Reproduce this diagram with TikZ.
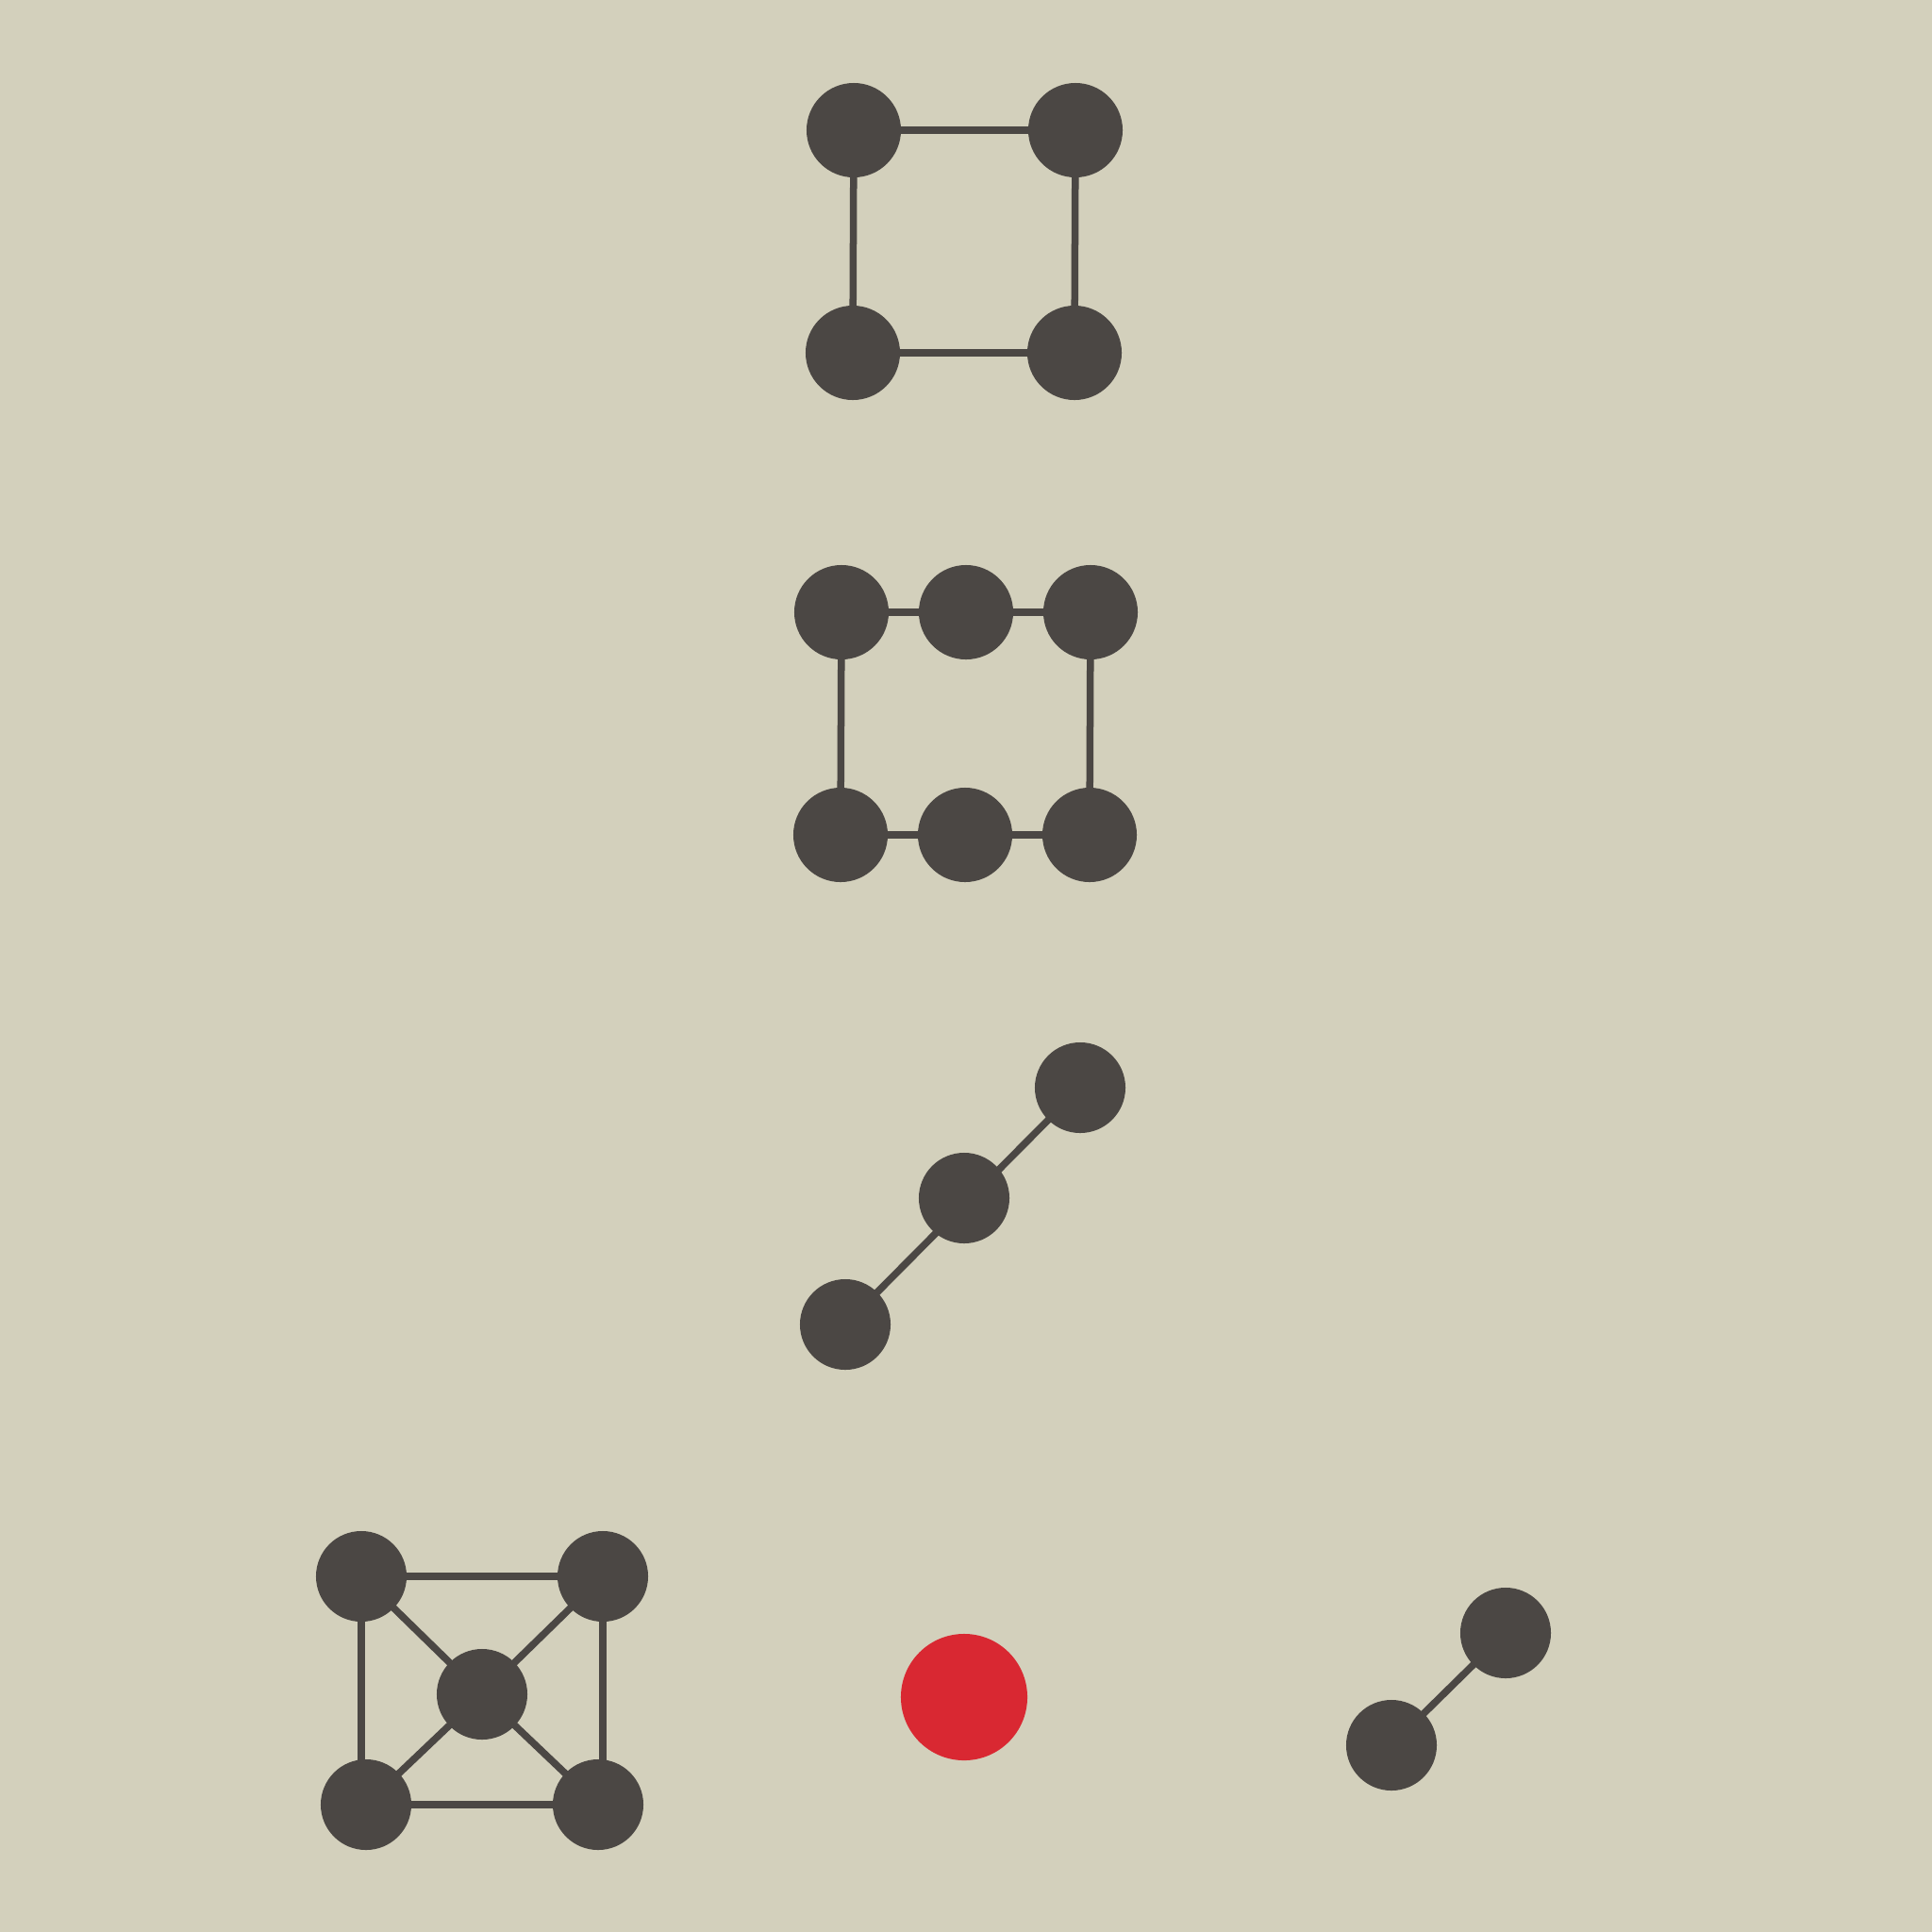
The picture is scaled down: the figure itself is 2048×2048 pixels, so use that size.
\documentclass[tikz,border=0pt]{standalone}
\usepackage{xcolor}
\usepackage{tikz}
\definecolor{paper}{HTML}{D3D0BC}
\definecolor{ink}{HTML}{4B4744}
\definecolor{signal}{HTML}{D92832}

\begin{document}
\begin{tikzpicture}[x=0.01cm, y=-0.01cm,
    vtx/.style={circle, fill=ink, draw=none, inner sep=0pt, outer sep=0pt, minimum size=1cm},
    small/.style={vtx, minimum size=0.96cm},
    hot/.style={circle, fill=signal, draw=none, inner sep=0pt, outer sep=0pt, minimum size=1.34cm},
    link/.style={draw=ink, line width=0.075cm},
  ]
    % canvas
    \fill[paper] (0,0) rectangle (2048,2048);

    % Group 1: square
    \node[vtx] (sqa) at (905,138)  {};
    \node[vtx] (sqb) at (1140,138) {};
    \node[vtx] (sqc) at (904,374)  {};
    \node[vtx] (sqd) at (1139,374) {};

    \draw[link] (sqa.center) -- (sqb.center);
    \draw[link] (sqa.center) -- (sqc.center);
    \draw[link] (sqb.center) -- (sqd.center);
    \draw[link] (sqc.center) -- (sqd.center);

    % Group 2: ring of six
    \node[vtx] (ra) at (892,649)  {};
    \node[vtx] (rb) at (1024,649) {};
    \node[vtx] (rc) at (1156,649) {};
    \node[vtx] (rd) at (891,885)  {};
    \node[vtx] (re) at (1023,885) {};
    \node[vtx] (rf) at (1155,885) {};

    \draw[link] (ra.center) -- (rb.center);
    \draw[link] (rb.center) -- (rc.center);
    \draw[link] (ra.center) -- (rd.center);
    \draw[link] (rc.center) -- (rf.center);
    \draw[link] (rd.center) -- (re.center);
    \draw[link] (re.center) -- (rf.center);

    % Group 3: chain (one straight run through the middle one)
    \node[small] (ca) at (1145,1153) {};
    \node[small] (cb) at (1022,1270) {};
    \node[small] (cc) at (896,1404)  {};

    \draw[link] (ca.center) -- (cc.center);

    % Group 4: square with hub
    \node[small] (ha) at (383,1671) {};
    \node[small] (hb) at (639,1671) {};
    \node[small] (hc) at (511,1796) {};
    \node[small] (hd) at (388,1913) {};
    \node[small] (he) at (634,1913) {};

    \draw[link] (ha.center) -- (hb.center);
    \draw[link] (ha.center) -- (ha.center |- hd.center);
    \draw[link] (hb.center) -- (hb.center |- he.center);
    \draw[link] (hd.center) -- (he.center);
    \draw[link] (ha.center) -- (hc.center);
    \draw[link] (hb.center) -- (hc.center);
    \draw[link] (hd.center) -- (hc.center);
    \draw[link] (he.center) -- (hc.center);

    % lone red one
    \node[hot] (red) at (1022,1799) {};

    % Group 5: pair
    \node[small] (pa) at (1596,1731) {};
    \node[small] (pb) at (1475,1850) {};

    \draw[link] (pa.center) -- (pb.center);
\end{tikzpicture}
\end{document}
